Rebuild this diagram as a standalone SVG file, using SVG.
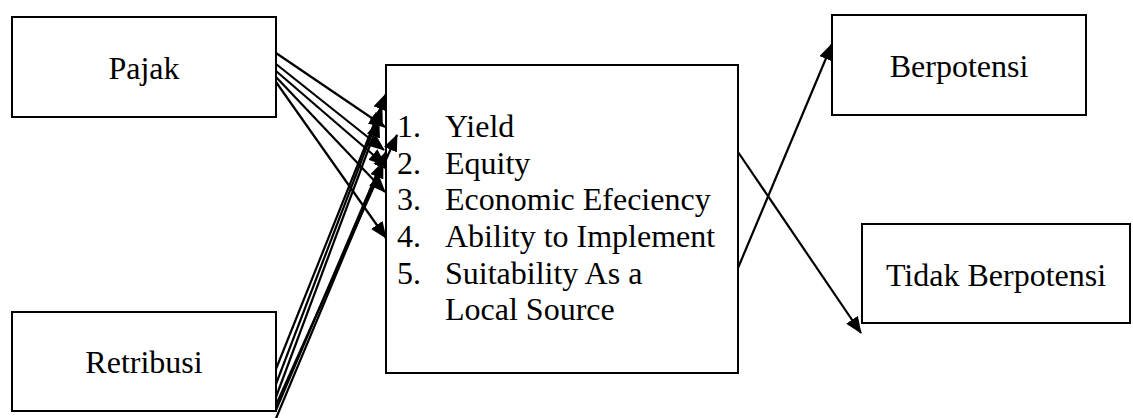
<svg xmlns="http://www.w3.org/2000/svg" width="1133" height="418" viewBox="0 0 1133 418">
<style>
.box{fill:#fff;stroke:#000;stroke-width:2}
.t{font-family:"Liberation Serif","Times New Roman",serif;font-size:32px;fill:#000}
.c{text-anchor:middle}
.ln{stroke:#000;stroke-width:2.2;fill:none;marker-end:url(#ah)}
</style>
<defs>
<marker id="ah" markerUnits="userSpaceOnUse" markerWidth="18" markerHeight="14" refX="16" refY="7" orient="auto">
<path d="M0,0 L17,7 L0,14 Z" fill="#000"/>
</marker>
</defs>
<rect width="1133" height="418" fill="#fff"/>
<g id="pajak">
<rect class="box" x="12" y="17" width="264" height="100"/>
<text class="t c" x="144" y="79">Pajak</text>
</g>
<g id="retribusi">
<rect class="box" x="12" y="312" width="264" height="99"/>
<text class="t c" x="144" y="373">Retribusi</text>
</g>
<g id="kriteria">
<rect class="box" x="386" y="65" width="352" height="308"/>
<text class="t" x="397" y="137">1.</text><text class="t" x="445" y="137">Yield</text>
<text class="t" x="397" y="173.5">2.</text><text class="t" x="445" y="173.5">Equity</text>
<text class="t" x="397" y="210">3.</text><text class="t" x="445" y="210">Economic Efeciency</text>
<text class="t" x="397" y="247">4.</text><text class="t" x="445" y="247">Ability to Implement</text>
<text class="t" x="397" y="283.5">5.</text><text class="t" x="445" y="283.5">Suitability As a</text>
<text class="t" x="445" y="320">Local Source</text>
</g>
<g id="berpotensi">
<rect class="box" x="832" y="15" width="254" height="100"/>
<text class="t c" x="959" y="77">Berpotensi</text>
</g>
<g id="tidak">
<rect class="box" x="862" y="224" width="268" height="99"/>
<text class="t c" x="996" y="286">Tidak Berpotensi</text>
</g>
<g id="connectors">
<line class="ln" x1="276" y1="53" x2="385" y2="127"/>
<line class="ln" x1="276" y1="64" x2="384" y2="150"/>
<line class="ln" x1="276" y1="71" x2="385" y2="165"/>
<line class="ln" x1="276" y1="77" x2="385" y2="192"/>
<line class="ln" x1="276" y1="82" x2="386" y2="238"/>
<line class="ln" x1="276" y1="369" x2="386" y2="94"/>
<line class="ln" x1="276" y1="384" x2="382" y2="107"/>
<line class="ln" x1="276" y1="397" x2="379" y2="121"/>
<line class="ln" x1="276" y1="405" x2="397" y2="135"/>
<line class="ln" x1="276" y1="410" x2="386" y2="152"/>
<line class="ln" x1="272" y1="428" x2="383" y2="162"/>
<line class="ln" x1="738" y1="152" x2="861" y2="333"/>
<line class="ln" x1="738" y1="268" x2="832" y2="44"/>
</g>
</svg>
